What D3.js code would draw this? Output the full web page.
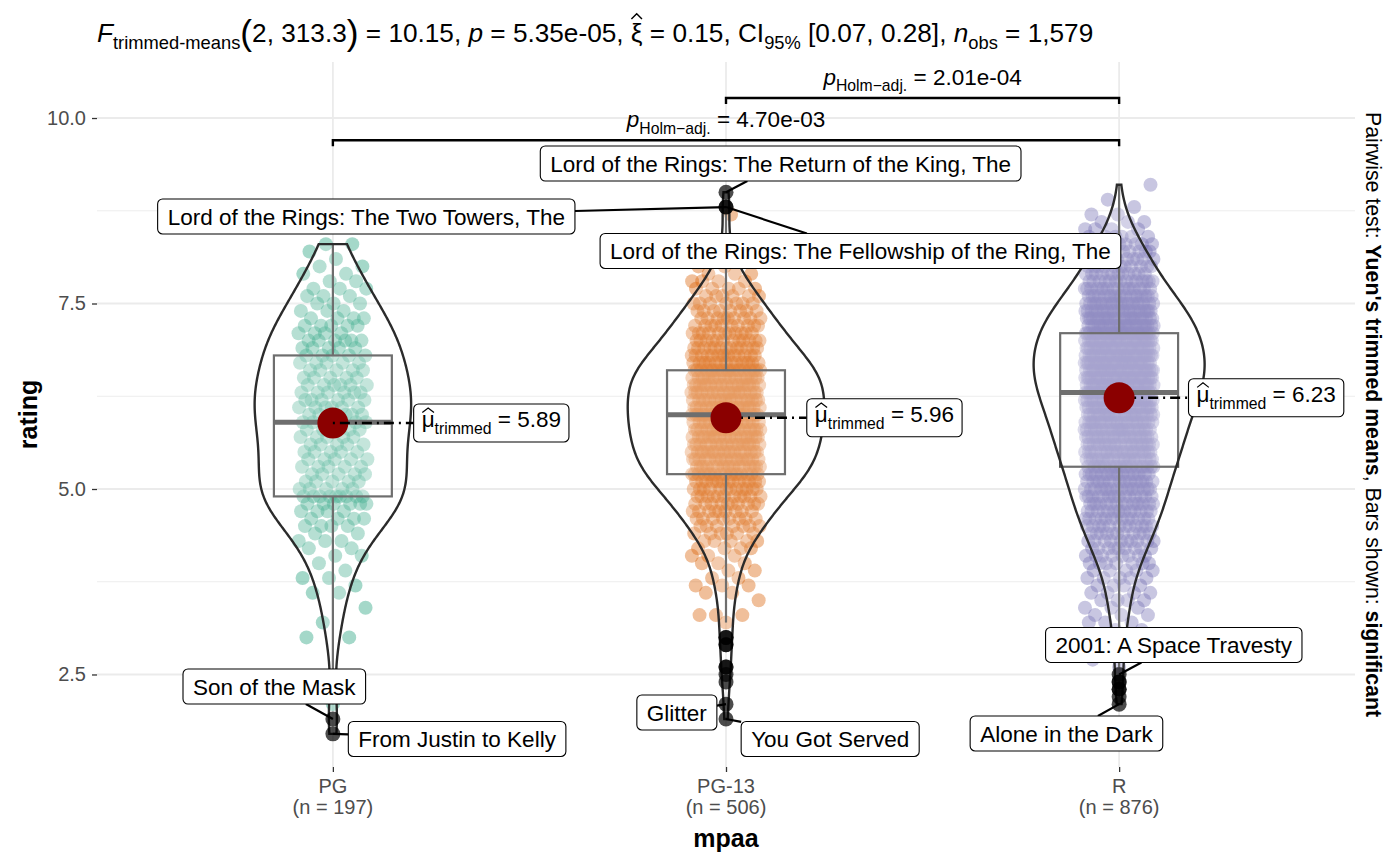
<!DOCTYPE html>
<html><head><meta charset="utf-8">
<script src="https://cdn.jsdelivr.net/npm/d3@7/dist/d3.min.js"></script>
<style>
html,body{margin:0;padding:0;background:#fff}
svg text{font-family:"Liberation Sans",Arial,Helvetica,sans-serif;white-space:pre}
</style></head><body>
<svg id="chart" width="1400" height="865"></svg>
<script>
// ---------------- DATA ----------------
const categories = ["PG", "PG-13", "R"];
const sampleSizes = [197, 506, 876];
const pointColors = ["#1B9E77", "#D95F02", "#7570B3"];

// ratings (IMDB scale) and how many movies have each rating, read from the point clouds
const pgRatings = [1.7,1.9,2.1,3.0,3.2,3.4,3.6,3.7,3.8,3.9,4.0,4.1,4.2,4.3,4.4,4.5,4.6,4.7,4.8,4.9,5.0,5.1,5.2,5.3,5.4,5.5,5.6,5.7,5.8,5.9,6.0,6.1,6.2,6.3,6.4,6.5,6.6,6.7,6.8,6.9,7.0,7.1,7.2,7.3,7.4,7.5,7.6,7.7,7.8,7.9,8.0,8.1,8.2,8.3];
const pgCounts  = [1,1,1,2,1,1,2,1,2,1,1,2,2,3,2,4,4,4,6,9,5,5,5,5,5,5,5,5,5,6,6,6,6,6,6,5,5,5,5,5,6,4,5,4,3,3,3,3,2,2,2,1,1,2];

const pg13Ratings = [1.9,2.1,2.4,2.5,2.6,2.9,3.0,3.2,3.3,3.5,3.6,3.7,3.8,3.9,4.0,4.1,4.2,4.3,4.4,4.5,4.6,4.7,4.8,4.9,5.0,5.1,5.2,5.3,5.4,5.5,5.6,5.7,5.8,5.9,6.0,6.1,6.2,6.3,6.4,6.5,6.6,6.7,6.8,6.9,7.0,7.1,7.2,7.3,7.4,7.5,7.6,7.7,7.8,7.9,8.0,8.1,8.2,8.3,8.7,8.8,9.0];
const pg13Counts  = [1,1,1,1,2,2,2,1,3,1,2,3,2,2,3,3,4,5,6,7,8,9,10,11,12,14,16,16,17,17,17,18,18,17,19,18,18,18,18,18,19,15,14,13,12,11,10,9,8,7,6,5,4,3,2,1,1,1,1,2,1];

const rRatings = [2.1,2.2,2.3,2.4,2.5,2.6,2.7,2.8,2.9,3.0,3.1,3.2,3.3,3.4,3.5,3.6,3.7,3.8,3.9,4.0,4.1,4.2,4.3,4.4,4.5,4.6,4.7,4.8,4.9,5.0,5.1,5.2,5.3,5.4,5.5,5.6,5.7,5.8,5.9,6.0,6.1,6.2,6.3,6.4,6.5,6.6,6.7,6.8,6.9,7.0,7.1,7.2,7.3,7.4,7.5,7.6,7.7,7.8,7.9,8.0,8.1,8.2,8.3,8.4,8.5,8.6,8.7,8.8,8.9,9.1];
const rCounts  = [1,1,2,2,1,1,1,1,2,2,2,3,3,3,4,4,4,5,5,7,8,9,10,11,12,13,14,15,15,16,16,17,18,19,20,20,21,22,22,23,24,25,26,27,28,28,28,28,27,27,26,25,24,22,20,18,16,14,12,11,10,9,8,6,4,3,2,1,1,1];

const trimmedMeans = [5.89, 5.96, 6.23];
const yTickValues = [2.5, 5.0, 7.5, 10.0];
const yMinorValues = [3.75, 6.25, 8.75];

const outlierNames = ["Son of the Mask", "From Justin to Kelly",
  "Lord of the Rings: The Return of the King, The", "Lord of the Rings: The Two Towers, The",
  "Lord of the Rings: The Fellowship of the Ring, The", "Glitter", "You Got Served",
  "2001: A Space Travesty", "Alone in the Dark"];
const outlierGroups = ["PG", "PG", "PG-13", "PG-13", "PG-13", "PG-13", "PG-13", "R", "R"];
const outlierRatings = [1.9, 1.7, 9.0, 8.8, 8.8, 2.1, 1.9, 2.5, 2.1];

const pairwiseGroups = [["PG-13", "R"], ["PG", "R"]];
const pairwisePValues = ["2.01e-04", "4.70e-03"];

// ---------------- LAYOUT (repelled label placement, in scale units) ----------------
const labelOffsetX = [-0.149, 0.316, 0.139, -0.915, 0.342, -0.125, 0.265, 0.139, -0.134];
const labelRatingY = [2.338, 1.631, 9.387, 8.673, 8.208, 1.988, 1.631, 2.898, 1.705];
const muLabelOffsetX = [0.403, 0.403, 0.374];
const pairwiseBarY = [10.27, 9.70];

// ---------------- SETUP ----------------
const svg = d3.select("#chart");
const panel = {l: 97, r: 1355, t: 62, b: 767};
const x = d3.scalePoint().domain(categories).range([panel.l, panel.r]).padding(0.6);
const step = x.step();
const y = d3.scaleLinear().domain([1.253, 10.755]).range([panel.b, panel.t]);

const FS = {title: 26.2, label: 22.5, tick: 20, axisTitle: 25, caption: 21.3};

function rich(parent, segs, size, o) {
  o = o || {};
  const g = parent.append("g");
  const inner = g.append("g");
  let cx = 0;
  segs.forEach(s => {
    const fs = size * (s.sub ? 0.7 : s.big ? 1.35 : 1);
    const dy = s.sub ? size * 0.28 : s.big ? size * 0.1 : 0;
    const t = inner.append("text").attr("x", cx).attr("y", dy).attr("font-size", fs)
      .attr("fill", o.fill || "#000")
      .attr("font-style", s.it ? "italic" : null)
      .attr("font-weight", (s.b || o.bold) ? "bold" : null)
      .text(s.t);
    const w = t.node().getComputedTextLength();
    if (s.hat) {
      const [b, p] = s.hat;
      inner.append("path")
        .attr("d", `M${cx + w * 0.05},${-size * b} L${cx + w * 0.5},${-size * p} L${cx + w * 0.95},${-size * b}`)
        .attr("fill", "none").attr("stroke", "#000").attr("stroke-width", size * 0.055);
    }
    cx += w;
  });
  const off = o.anchor === "middle" ? -cx / 2 : o.anchor === "end" ? -cx : 0;
  if (o.rot) g.attr("transform", `translate(${o.x},${o.y}) rotate(${o.rot}) translate(${off},0)`);
  else g.attr("transform", `translate(${o.x + off},${o.y})`);
  return cx;
}

// ---------------- DATA PREP ----------------
const ratingArrays = [pgRatings, pg13Ratings, rRatings];
const countArrays = [pgCounts, pg13Counts, rCounts];
const groups = categories.map((c, i) => {
  const vals = [];
  ratingArrays[i].forEach((r, j) => { for (let k = 0; k < countArrays[i][j]; k++) vals.push(r); });
  vals.sort(d3.ascending);
  const q1 = d3.quantile(vals, 0.25), med = d3.quantile(vals, 0.5), q3 = d3.quantile(vals, 0.75);
  const iqr = q3 - q1, lo = q1 - 1.5 * iqr - 1e-9, hi = q3 + 1.5 * iqr + 1e-9;
  const inl = vals.filter(v => v >= lo && v <= hi);
  const out = vals.filter(v => v < lo || v > hi);
  // gaussian KDE, bw.nrd0, trimmed to data range
  const n = vals.length, sd = d3.deviation(vals);
  const bw = 0.9 * Math.min(sd, iqr / 1.34) * Math.pow(n, -0.2);
  const mn = d3.min(vals), mx = d3.max(vals);
  const dens = [];
  for (let k = 0; k < 512; k++) {
    const t = mn + (mx - mn) * k / 511;
    let s = 0;
    for (const v of vals) { const z = (t - v) / bw; s += Math.exp(-0.5 * z * z); }
    dens.push([t, s / (n * bw * Math.sqrt(2 * Math.PI))]);
  }
  return {c, i, vals, q1, med, q3, wlo: d3.min(inl), whi: d3.max(inl), inl, out, dens};
});
const maxDens = d3.max(groups, g => d3.max(g.dens, d => d[1]));
const vw = d3.scaleLinear().domain([0, maxDens]).range([0, 0.25 * step]);

// ---------------- GRID ----------------
const grid = svg.append("g");
yMinorValues.forEach(v => grid.append("line").attr("x1", panel.l).attr("x2", panel.r)
  .attr("y1", y(v)).attr("y2", y(v)).attr("stroke", "#EBEBEB").attr("stroke-width", 0.9));
yTickValues.forEach(v => grid.append("line").attr("x1", panel.l).attr("x2", panel.r)
  .attr("y1", y(v)).attr("y2", y(v)).attr("stroke", "#EBEBEB").attr("stroke-width", 1.8));
categories.forEach(c => grid.append("line").attr("x1", x(c)).attr("x2", x(c))
  .attr("y1", panel.t).attr("y2", panel.b).attr("stroke", "#EBEBEB").attr("stroke-width", 1.8));

// ---------------- AXES ----------------
const yAxis = svg.append("g").attr("transform", `translate(${panel.l},0)`)
  .call(d3.axisLeft(y).tickValues(yTickValues).tickFormat(d3.format(".1f")).tickSize(5).tickPadding(6));
yAxis.select(".domain").remove();
yAxis.selectAll("line").attr("stroke", "#333").attr("stroke-width", 1.3);
yAxis.selectAll("text").attr("font-size", FS.tick).attr("fill", "#4D4D4D")
  .attr("font-family", '"Liberation Sans",Arial,sans-serif');

const xAxis = svg.append("g").attr("transform", `translate(0,${panel.b})`)
  .call(d3.axisBottom(x).tickSize(5).tickFormat(""));
xAxis.select(".domain").remove();
xAxis.selectAll("line").attr("stroke", "#333").attr("stroke-width", 1.3);
categories.forEach((c, i) => {
  rich(svg, [{t: c}], FS.tick, {x: x(c), y: 793, anchor: "middle", fill: "#4D4D4D"});
  rich(svg, [{t: `(n = ${sampleSizes[i]})`}], FS.tick, {x: x(c), y: 814, anchor: "middle", fill: "#4D4D4D"});
});

rich(svg, [{t: "mpaa"}], FS.axisTitle, {x: x("PG-13"), y: 847, anchor: "middle", bold: true});
rich(svg, [{t: "rating"}], FS.axisTitle, {x: 37, y: (panel.t + panel.b) / 2, anchor: "middle", bold: true, rot: -90});

// ---------------- POINTS ----------------
const pts = svg.append("g");
groups.forEach(g => {
  g.inl.forEach((v, k) => {
    const u = ((0.5 + k * 0.6180339887) % 1) * 2 - 1;
    pts.append("circle").attr("cx", x(g.c) + u * 0.088 * step).attr("cy", y(v)).attr("r", 7)
      .attr("fill", pointColors[g.i]).attr("fill-opacity", 0.4);
  });
});

// ---------------- BOXPLOTS ----------------
const bx = svg.append("g");
const bwid = 0.3 * step;
const boxCol = "#4a4a4a";
groups.forEach(g => {
  const cx = x(g.c);
  bx.append("line").attr("x1", cx).attr("x2", cx).attr("y1", y(g.q3)).attr("y2", y(g.whi))
    .attr("stroke", boxCol).attr("stroke-width", 2.2);
  bx.append("line").attr("x1", cx).attr("x2", cx).attr("y1", y(g.q1)).attr("y2", y(g.wlo))
    .attr("stroke", boxCol).attr("stroke-width", 2.2);
  bx.append("rect").attr("x", cx - bwid / 2).attr("width", bwid).attr("y", y(g.q3))
    .attr("height", y(g.q1) - y(g.q3)).attr("fill", "#fff").attr("fill-opacity", 0.2)
    .attr("stroke", boxCol).attr("stroke-width", 2.2);
  bx.append("line").attr("x1", cx - bwid / 2).attr("x2", cx + bwid / 2).attr("y1", y(g.med)).attr("y2", y(g.med))
    .attr("stroke", boxCol).attr("stroke-width", 5);
});

// ---------------- VIOLINS ----------------
const vl = svg.append("g");
groups.forEach(g => {
  const cx = x(g.c);
  const left = g.dens.map(d => [cx - vw(d[1]), y(d[0])]);
  const right = g.dens.slice().reverse().map(d => [cx + vw(d[1]), y(d[0])]);
  vl.append("path").attr("d", d3.line()(left.concat(right)) + "Z")
    .attr("fill", "#fff").attr("fill-opacity", 0.2).attr("stroke", "#2b2b2b").attr("stroke-width", 2.4);
});

// ---------------- OUTLIERS ----------------
const ol = svg.append("g");
groups.forEach(g => g.out.forEach(v => ol.append("circle").attr("cx", x(g.c)).attr("cy", y(v)).attr("r", 7.5)
  .attr("fill", "#000").attr("fill-opacity", 0.7)));

// outlier labels
const lab = svg.append("g");
outlierNames.forEach((name, i) => {
  const px = x(outlierGroups[i]), py = y(outlierRatings[i]);
  const cx = px + labelOffsetX[i] * step, cy = y(labelRatingY[i]);
  const tg = lab.append("g");
  const box = tg.append("rect");
  const w = rich(tg, [{t: name}], FS.label, {x: cx, y: cy + FS.label * 0.36, anchor: "middle"});
  const pad = 10, h = 35;
  const hw = w / 2 + pad, hh = h / 2;
  box.attr("x", cx - hw).attr("y", cy - hh).attr("width", 2 * hw).attr("height", h)
    .attr("rx", 5).attr("fill", "#fff").attr("stroke", "#000").attr("stroke-width", 1.1);
  const dx = cx - px, dy = cy - py;
  const s = Math.max(Math.abs(dx) / hw, Math.abs(dy) / hh);
  if (s > 1) {
    lab.insert("line", ":first-child").attr("x1", px).attr("y1", py)
      .attr("x2", cx - dx / s).attr("y2", cy - dy / s).attr("stroke", "#000").attr("stroke-width", 2.2);
  }
});

// ---------------- CENTRALITY ----------------
const cen = svg.append("g");
groups.forEach((g, i) => {
  const cx = x(g.c), cy = y(trimmedMeans[i]);
  cen.append("circle").attr("cx", cx).attr("cy", cy).attr("r", 15.5).attr("fill", "#8B0000");
  const lx = cx + muLabelOffsetX[i] * step;
  const tg = cen.append("g");
  const box = tg.append("rect");
  const w = rich(tg, [{t: "\u03BC", hat: [0.66, 0.86]}, {t: "trimmed", sub: true}, {t: " = " + trimmedMeans[i].toFixed(2)}],
    FS.label, {x: lx, y: cy + FS.label * 0.2, anchor: "middle"});
  const hw = w / 2 + 8, h = 38;
  box.attr("x", lx - hw).attr("y", cy - h / 2).attr("width", 2 * hw).attr("height", h)
    .attr("rx", 5).attr("fill", "#fff").attr("stroke", "#000").attr("stroke-width", 1.1);
  cen.insert("line", "g").attr("x1", cx).attr("y1", cy).attr("x2", lx - hw).attr("y2", cy)
    .attr("stroke", "#000").attr("stroke-width", 2.4).attr("stroke-dasharray", "2,5,10,5");
});

// ---------------- PAIRWISE BARS ----------------
const sig = svg.append("g");
pairwiseGroups.forEach((pr, i) => {
  const x1 = x(pr[0]), x2 = x(pr[1]), by = y(pairwiseBarY[i]);
  sig.append("path").attr("d", `M${x1},${by + 6} L${x1},${by} L${x2},${by} L${x2},${by + 6}`)
    .attr("fill", "none").attr("stroke", "#000").attr("stroke-width", 2.4);
  rich(sig, [{t: "p", it: true}, {t: "Holm\u2212adj.", sub: true}, {t: " = " + pairwisePValues[i]}],
    FS.label, {x: (x1 + x2) / 2, y: by - 13, anchor: "middle"});
});

// ---------------- TITLE & CAPTION ----------------
rich(svg, [
  {t: "F", it: true}, {t: "trimmed-means", sub: true}, {t: "(", big: true}, {t: "2, 313.3"}, {t: ")", big: true},
  {t: " = 10.15, "}, {t: "p", it: true}, {t: " = 5.35e-05, "}, {t: "\u03BE", hat: [0.88, 1.08]},
  {t: " = 0.15, CI"}, {t: "95%", sub: true}, {t: " [0.07, 0.28], "}, {t: "n", it: true}, {t: "obs", sub: true},
  {t: " = 1,579"}
], FS.title, {x: 97, y: 42});

rich(svg, [{t: "Pairwise test: "}, {t: "Yuen's trimmed means", b: true}, {t: ", Bars shown: "}, {t: "significant", b: true}],
  FS.caption, {x: 1366, y: (panel.t + panel.b) / 2, anchor: "middle", rot: 90});
</script>
</body></html>
